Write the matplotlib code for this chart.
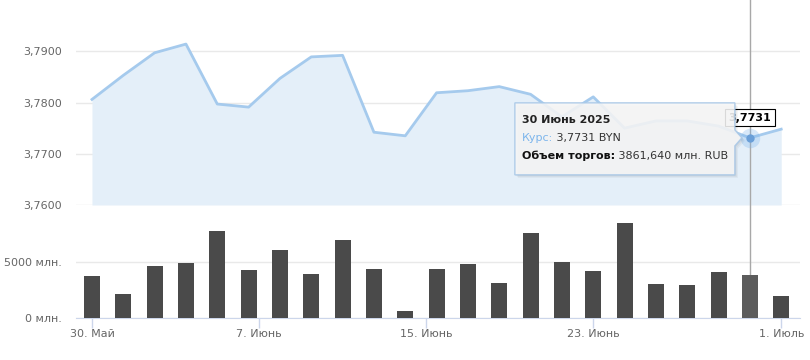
import matplotlib
matplotlib.use("Agg")
import matplotlib.pyplot as plt
import numpy as np
from matplotlib.patches import Polygon
from matplotlib.transforms import IdentityTransform

plt.rcParams['font.family'] = ['DejaVu Sans']

# exchange rate, weekdays 30 May .. 1 July 2025
rate = [3.7806, 3.7853, 3.7897, 3.7914, 3.7797, 3.7791, 3.7847, 3.7889, 3.7892,
        3.7742, 3.7735, 3.7819, 3.7823, 3.7831, 3.7816, 3.7772, 3.7811, 3.7750,
        3.7764, 3.7764, 3.7754, 3.7731, 3.7748]
# trade volume, mln RUB
volume = [3777, 2170, 4670, 4940, 7795, 4312, 6100, 3955, 6990, 4400, 650, 4400,
          4850, 3150, 7620, 4960, 4220, 8510, 3060, 2970, 4130, 3862, 1990]

date_ticks = [0, 5.333, 10.667, 16, 22]
date_labels = ['30. Май', '7. Июнь', '15. Июнь', '23. Июнь', '1. Июль']
rate_ticks = [3.76, 3.77, 3.78, 3.79]
rate_labels = ['3,7600', '3,7700', '3,7800', '3,7900']
vol_ticks = [0, 5000]
vol_labels = ['0 млн.', '5000 млн.']

hover = 21
hover_date = '30 Июнь 2025'
hover_rate = '3,7731'
hover_volume = '3861,640'

W, H = 810, 360
fig = plt.figure(figsize=(W / 100, H / 100), dpi=100)


def px_axes(l, t, r, b):
    return fig.add_axes([l / W, 1 - b / H, (r - l) / W, (b - t) / H])


ax1 = px_axes(76, 0, 800, 205)
ax2 = px_axes(76, 210, 800, 318)
x = np.arange(len(rate))
grid_c = '#e9e9e9'
lab_c = '#666666'

# --- rate pane
ax1.fill_between(x, rate, 3.76, color='#e4eff9', lw=0, zorder=1)
ax1.plot(x, rate, color='#a5caed', lw=2, zorder=3, solid_joinstyle='round')
ax1.axvline(hover, ymin=-5 / 205, ymax=1, color='#a8a8a8', lw=1, zorder=2, clip_on=False)
ax1.plot(hover, rate[hover], 'o', ms=14, color='#7cb5ec', alpha=0.3, mec='none', zorder=4)
ax1.plot(hover, rate[hover], 'o', ms=6, color='#6a9fd8', mec='none', zorder=5)
ax1.annotate(hover_rate, (hover, rate[hover]), xytext=(0, 14.5), textcoords='offset points',
             ha='center', va='center', fontsize=8, fontweight='bold', color='black', zorder=6,
             bbox=dict(boxstyle='square,pad=0.3', fc='white', ec='black', lw=0.8))
ax1.set_ylim(3.76, 3.80)
ax1.set_yticks(rate_ticks)
ax1.set_yticklabels(rate_labels)
ax1.set_xticks([])

# --- volume pane
colors = ['#4a4a4a'] * len(volume)
colors[hover] = '#5c5c5c'
ax2.bar(x, volume, width=0.51, color=colors, zorder=3)
ax2.axvline(hover, color='#a8a8a8', lw=1, zorder=1)
ax2.set_ylim(0, 9640)
ax2.set_yticks(vol_ticks)
ax2.set_yticklabels(vol_labels)
ax2.set_xticks(date_ticks)
ax2.set_xticklabels(date_labels)

for ax in (ax1, ax2):
    ax.set_xlim(-0.51, 22.6)
    for s in ax.spines.values():
        s.set_visible(False)
    ax.grid(axis='y', color=grid_c, lw=1, zorder=0)
    ax.set_axisbelow(True)
    ax.tick_params(axis='y', length=0, pad=10, labelsize=8, labelcolor=lab_c)

ax2.spines['bottom'].set_visible(True)
ax2.spines['bottom'].set_color('#ccd6eb')
ax2.tick_params(axis='x', length=7, width=1, color='#ccd6eb', pad=1, labelsize=8, labelcolor=lab_c)

# --- tooltip (pixel offsets from the hovered point)
fig.canvas.draw()
px, py = ax1.transData.transform((hover, rate[hover]))
L, R, T, B = px - 235, px - 15, py + 35, py - 37
tip = [(L, T), (R, T), (R, py + 8), (px - 8, py), (R, py - 8), (R, B), (L, B)]
for k in range(1, 4):
    sh = [(a + k, b - k) for a, b in tip]
    fig.add_artist(Polygon(sh, closed=True, transform=IdentityTransform(), fc='black',
                           alpha=0.04, ec='none', zorder=7))
fig.add_artist(Polygon(tip, closed=True, transform=IdentityTransform(), fc='#f7f7f7',
                       alpha=0.88, ec='#a7c7e7', lw=1, zorder=8))

ren = fig.canvas.get_renderer()


def piece(x0, y0, s, **kw):
    t = fig.text(x0, y0, s, transform=IdentityTransform(), va='center', ha='left',
                 fontsize=8, zorder=9, **kw)
    return x0 + t.get_window_extent(ren).width


tx = L + 7
piece(tx, py + 17.5, hover_date, color='#222222', fontweight='bold')
nx = piece(tx, py, 'Курс:', color='#7cb5ec')
piece(nx, py, ' ' + hover_rate + ' BYN', color='#333333')
nx = piece(tx, py - 18, 'Объем торгов:', color='#111111', fontweight='bold')
piece(nx, py - 18, ' ' + hover_volume + ' млн. RUB', color='#333333')

fig.savefig('out.png', dpi=100)
